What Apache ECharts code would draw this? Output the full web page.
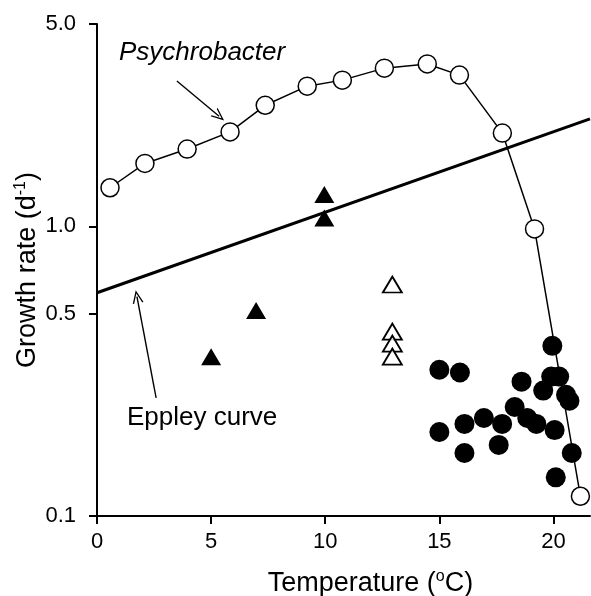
<!DOCTYPE html>
<html>
<head>
<meta charset="utf-8">
<script src="https://cdn.jsdelivr.net/npm/echarts@6/dist/echarts.min.js"></script>
<style>
  html, body { margin: 0; padding: 0; background: #fff; }
  #chart { width: 591px; height: 596px; }
</style>
</head>
<body>
<div id="chart"></div>
<script>
// Psychrobacter (open circles, joined)
const psychroTemp = [0.57, 2.1, 3.95, 5.83, 7.37, 9.21, 10.75, 12.59, 14.47, 15.88, 17.76, 19.17, 21.18];
const psychroRate = [1.36, 1.65, 1.85, 2.12, 2.62, 3.05, 3.2, 3.52, 3.64, 3.33, 2.1, 0.98, 0.117];

// Eppley curve (straight on log scale): end points
const eppleyTemp = [0, 21.6];
const eppleyRate = [0.59, 2.35];

// filled triangles
const filledTriTemp = [5.0, 6.97, 9.96, 9.96];
const filledTriRate = [0.355, 0.512, 1.29, 1.07];

// open triangles
const openTriTemp = [12.94, 12.94, 12.94, 12.94];
const openTriRate = [0.63, 0.433, 0.394, 0.355];

// filled circles
const dotTemp = [15.0, 15.9, 18.6, 19.55, 19.95, 19.9, 20.25, 20.55, 20.7, 18.3, 16.95, 17.75,
                 18.85, 19.25, 20.05, 15.0, 16.1, 16.1, 17.6, 20.8, 20.1];
const dotRate = [0.32, 0.313, 0.291, 0.271, 0.387, 0.303, 0.303, 0.262, 0.25, 0.238, 0.218, 0.208,
                 0.218, 0.208, 0.198, 0.195, 0.208, 0.165, 0.176, 0.165, 0.136];

// axis ticks
const xTicks = [0, 5, 10, 15, 20];
const yTicks = [0.1, 0.5, 1, 5];

// annotation arrows [start, end] in data units
const psychroArrow = [[3.5, 3.18], [5.35, 2.4]];
const eppleyArrow = [[2.59, 0.256], [1.75, 0.572]];

const zip = (a, b) => a.map((v, i) => [v, b[i]]);

const chart = echarts.init(document.getElementById('chart'));
const font = '"Liberation Sans", Arial, Helvetica, sans-serif';

// open "V" arrow head
const openHead = 'path://M0,0 L6,11 L4.4,11 L0,2.8 L-4.4,11 L-6,11 Z';

const arrowLine = (pts) => ({
  silent: true,
  symbol: ['none', openHead],
  symbolSize: [11, 13],
  label: { show: false },
  lineStyle: { color: '#000', width: 1.4, type: 'solid' },
  itemStyle: { color: '#000' },
  data: [[{ coord: pts[0] }, { coord: pts[1] }]]
});

const supStyle = { fontSize: 16, verticalAlign: 'top', padding: [0, 0, 14, 0], fontFamily: font, color: '#000' };

chart.setOption({
  backgroundColor: '#fff',
  animation: false,
  textStyle: { fontFamily: font, color: '#000' },
  grid: { left: 97, right: 1, top: 24, bottom: 80, outerBoundsMode: 'none' },
  xAxis: {
    type: 'value',
    min: 0,
    max: 21.6,
    interval: 5,
    name: 'Temperature ({sup|o}C)',
    nameLocation: 'middle',
    nameGap: 53,
    nameMoveOverlap: false,
    nameTextStyle: {
      fontSize: 27, fontFamily: font, color: '#000',
      padding: [0, 0, 0, 54],
      rich: { sup: supStyle }
    },
    axisLine: { lineStyle: { color: '#000', width: 2 } },
    axisTick: { length: 8, lineStyle: { color: '#000', width: 2 }, customValues: xTicks },
    axisLabel: { fontSize: 22, color: '#000', margin: 15, fontFamily: font, customValues: xTicks },
    splitLine: { show: false }
  },
  yAxis: {
    type: 'log',
    min: 0.1,
    max: 5,
    name: 'Growth rate (d{sup|-1})',
    nameLocation: 'middle',
    nameRotate: 90,
    nameGap: 54,
    nameMoveOverlap: false,
    nameTextStyle: {
      fontSize: 27, fontFamily: font, color: '#000',
      rich: { sup: supStyle }
    },
    axisLine: { show: true, lineStyle: { color: '#000', width: 2 } },
    axisTick: { length: 8, lineStyle: { color: '#000', width: 2 }, customValues: yTicks },
    axisLabel: {
      fontSize: 22, color: '#000', margin: 21, fontFamily: font, customValues: yTicks,
      formatter: (v) => v.toFixed(1)
    },
    splitLine: { show: false }
  },
  graphic: [
    { type: 'text', left: 119, top: 40, style: { text: 'Psychrobacter', font: 'italic 26px ' + font, fill: '#000' } },
    { type: 'text', left: 127, top: 405, style: { text: 'Eppley curve', font: '26px ' + font, fill: '#000' } }
  ],
  series: [
    {
      name: 'Eppley',
      type: 'line',
      data: zip(eppleyTemp, eppleyRate),
      symbol: 'none',
      lineStyle: { color: '#000', width: 3 },
      z: 2,
      markLine: arrowLine(eppleyArrow)
    },
    {
      name: 'Filled circles',
      type: 'scatter',
      data: zip(dotTemp, dotRate),
      symbol: 'circle',
      symbolSize: 20,
      itemStyle: { color: '#000', opacity: 1 },
      z: 3
    },
    {
      name: 'Filled triangles',
      type: 'scatter',
      data: zip(filledTriTemp, filledTriRate),
      symbol: 'triangle',
      symbolSize: [20, 17],
      itemStyle: { color: '#000', opacity: 1 },
      z: 3
    },
    {
      name: 'Open triangles',
      type: 'scatter',
      data: zip(openTriTemp, openTriRate),
      symbol: 'triangle',
      symbolSize: [19, 16],
      itemStyle: { color: 'rgba(255,255,255,0.85)', borderColor: '#000', borderWidth: 1.8, opacity: 1 },
      z: 3
    },
    {
      name: 'Psychrobacter',
      type: 'line',
      data: zip(psychroTemp, psychroRate),
      symbol: 'circle',
      symbolSize: 18,
      showSymbol: true,
      lineStyle: { color: '#000', width: 1.5 },
      itemStyle: { color: '#fff', borderColor: '#000', borderWidth: 1.5 },
      z: 4,
      markLine: arrowLine(psychroArrow)
    }
  ]
});
</script>
</body>
</html>
